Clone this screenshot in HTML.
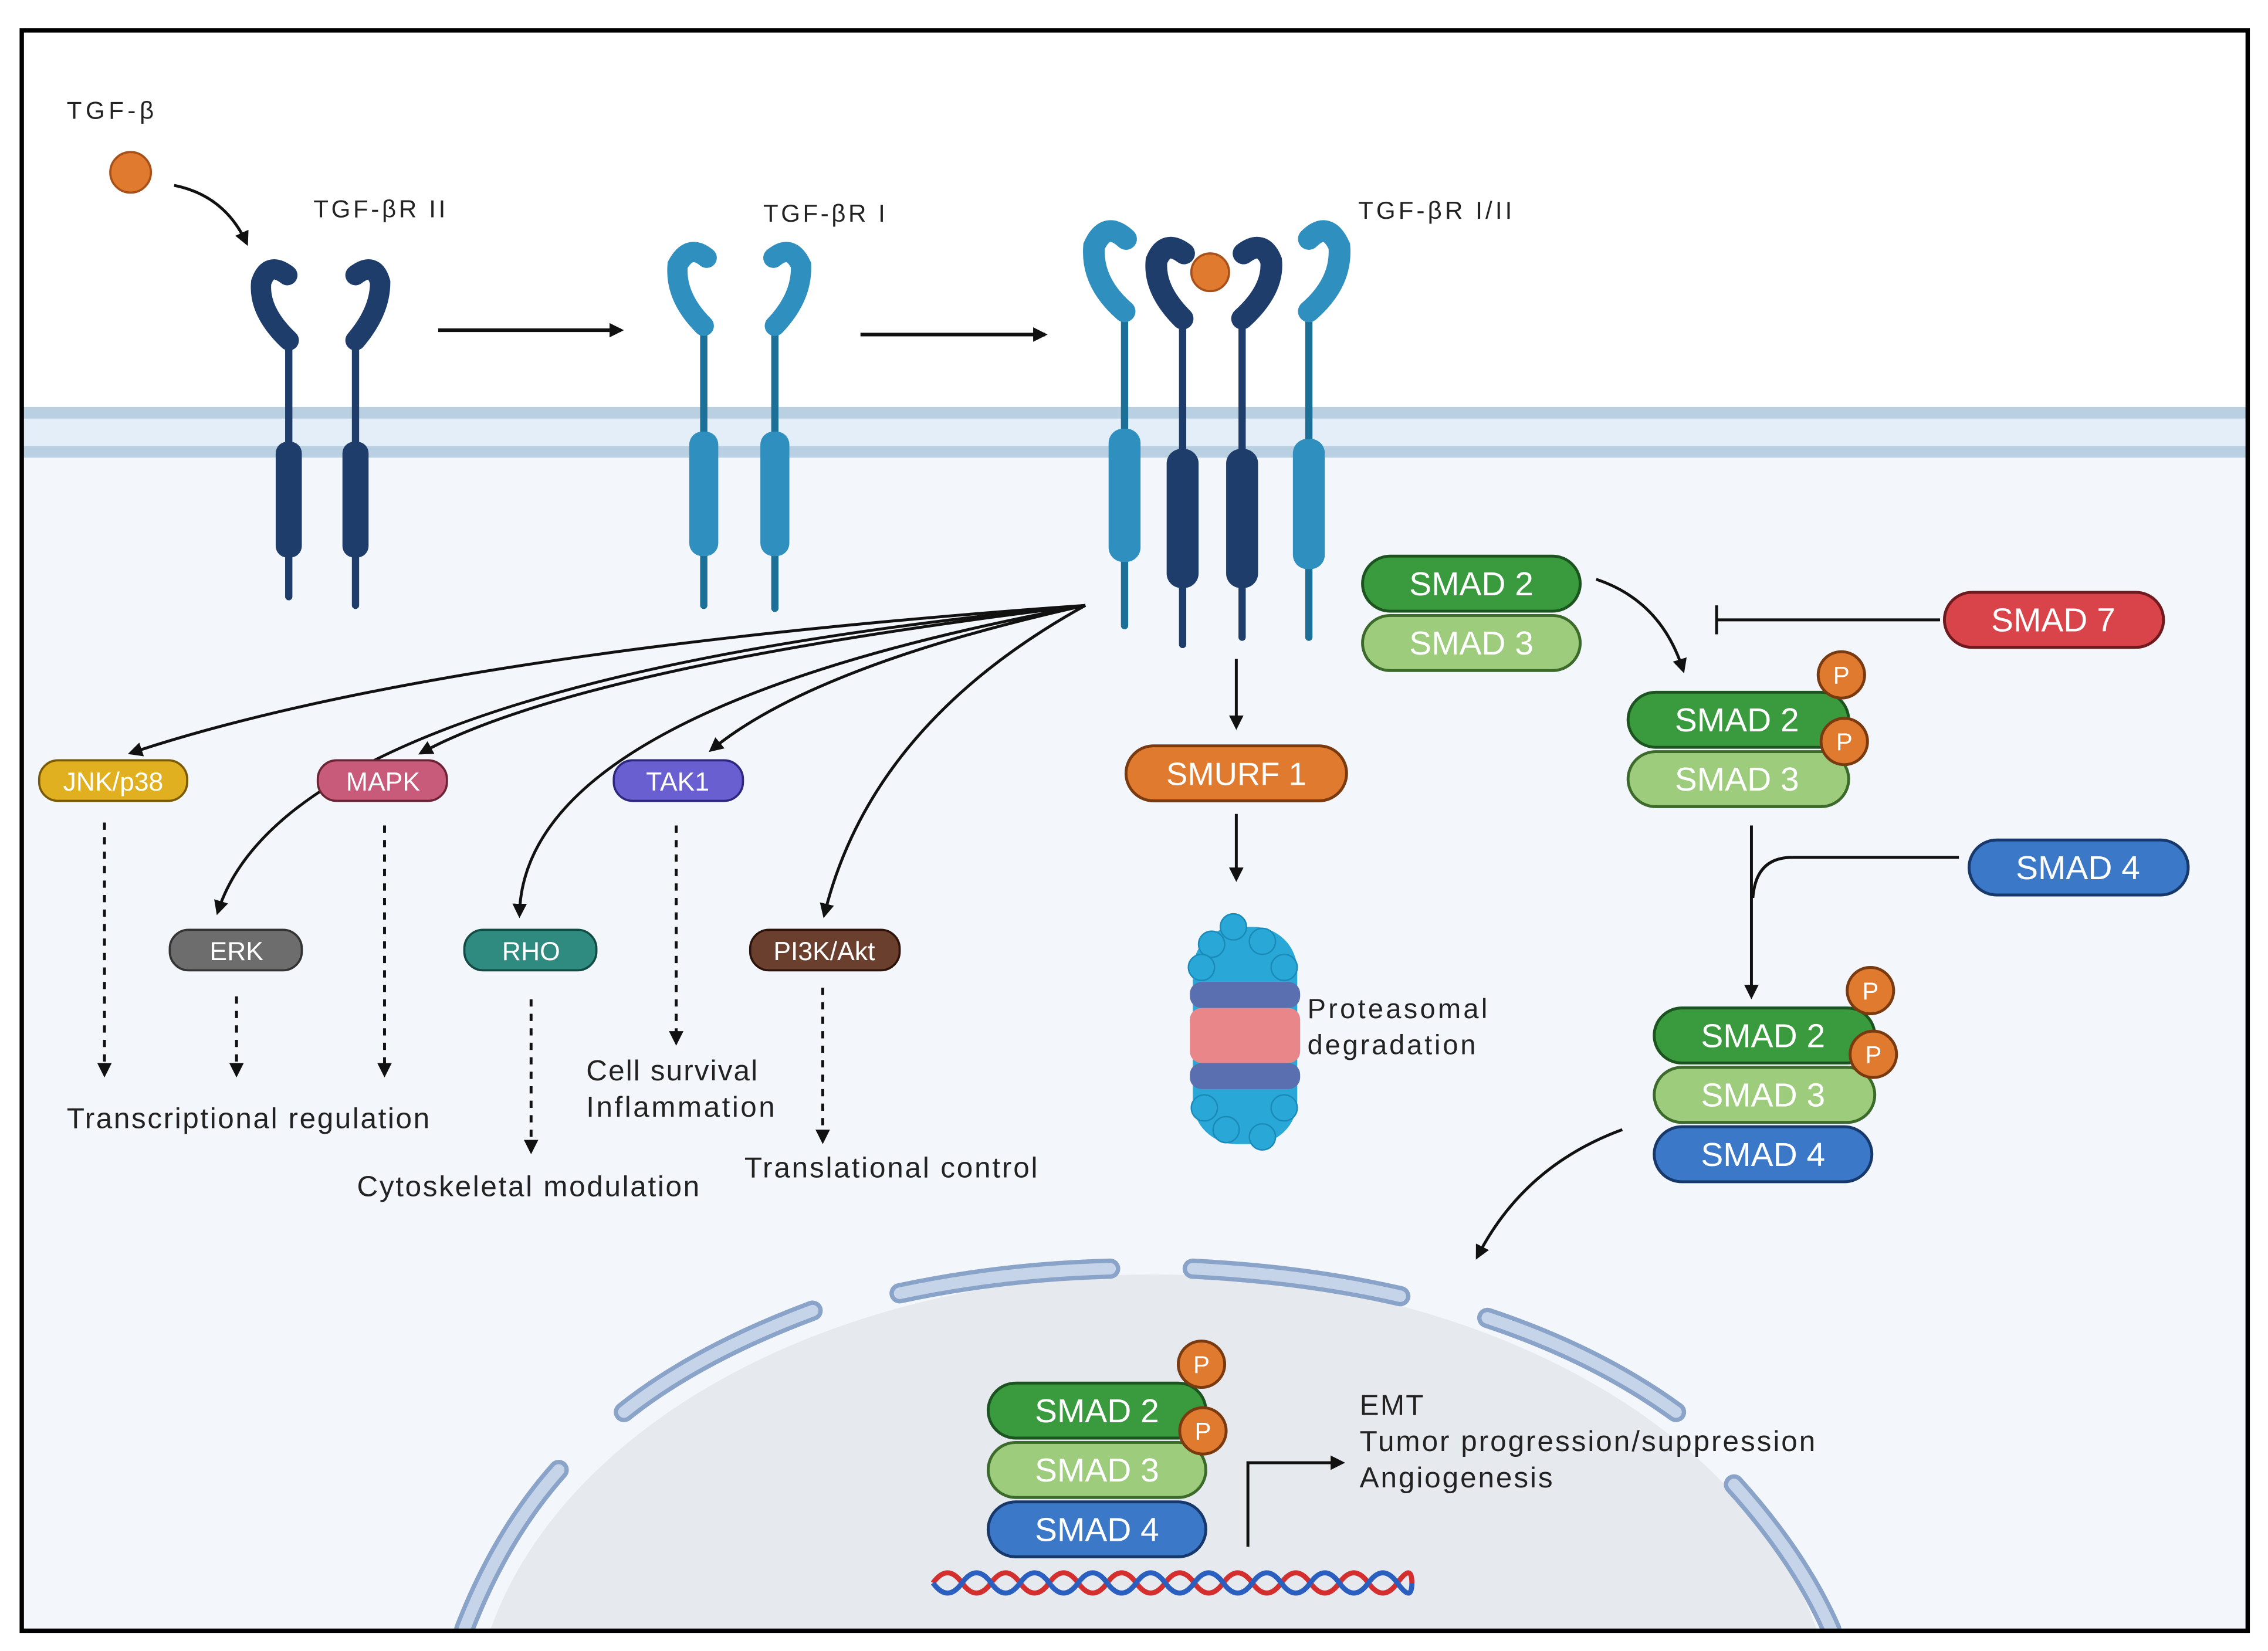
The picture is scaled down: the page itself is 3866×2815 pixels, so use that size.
<!DOCTYPE html>
<html><head><meta charset="utf-8"><style>
html,body{margin:0;padding:0;background:#fff;overflow:hidden;width:3866px;height:2815px}
svg{display:block}
text{font-family:"Liberation Sans",sans-serif}
</style></head><body>
<svg width="3866" height="2815" viewBox="0 0 1563 1140" preserveAspectRatio="none" xmlns="http://www.w3.org/2000/svg">
<defs>
<marker id="ah" markerWidth="10" markerHeight="10" refX="8" refY="5" orient="auto" markerUnits="userSpaceOnUse"><path d="M0,0 L10,5 L0,10 z" fill="#111"/></marker>
<clipPath id="cl"><rect x="16" y="22" width="1532" height="1103"/></clipPath>
</defs>
<rect x="0" y="0" width="1563" height="1140" fill="#fff"/>
<rect x="16" y="22" width="1532" height="1103" fill="#fff"/>
<rect x="16" y="300" width="1532" height="825" fill="#f3f6fa"/>
<g clip-path="url(#cl)">
<rect x="16" y="283" width="1532" height="32" fill="#e3eef8"/>
<rect x="16" y="281" width="1532" height="8" fill="#b9cfe2"/>
<rect x="16" y="308" width="1532" height="8" fill="#b9cfe2"/>
<ellipse cx="795" cy="1200" rx="470" ry="320" fill="#e6e9ed"/>
<g fill="none" stroke="#8aa3c8" stroke-width="14" stroke-linecap="round">
<path d="M320 1125 Q345 1060 385 1015"/>
<path d="M430 975 Q480 935 560 905"/>
<path d="M620 893 Q690 878 765 876"/>
<path d="M822 876 Q900 880 965 895"/>
<path d="M1025 910 Q1100 935 1155 975"/>
<path d="M1195 1025 Q1240 1075 1262 1125"/>
</g>
<g fill="none" stroke="#c5d4e8" stroke-width="8" stroke-linecap="round">
<path d="M320 1125 Q345 1060 385 1015"/>
<path d="M430 975 Q480 935 560 905"/>
<path d="M620 893 Q690 878 765 876"/>
<path d="M822 876 Q900 880 965 895"/>
<path d="M1025 910 Q1100 935 1155 975"/>
<path d="M1195 1025 Q1240 1075 1262 1125"/>
</g>
</g>
<rect x="15" y="21" width="1534" height="1105" fill="none" stroke="#000" stroke-width="3"/>

<text x="46" y="82" font-size="17" fill="#222" textLength="60">TGF-β</text>
<circle cx="90" cy="119" r="14" fill="#e07a2e" stroke="#a8501a" stroke-width="1.5"/>
<path d="M120 128 Q155 135 170 168" fill="none" stroke="#111" stroke-width="2" marker-end="url(#ah)"/>
<text x="216" y="150" font-size="17" fill="#222" textLength="91">TGF-βR II</text>
<text x="526" y="153" font-size="17" fill="#222" textLength="84">TGF-βR I</text>
<text x="936" y="151" font-size="17" fill="#222" textLength="106">TGF-βR I/II</text>
<line x1="302" y1="228" x2="428" y2="228" stroke="#111" stroke-width="2.5" marker-end="url(#ah)"/>
<line x1="593" y1="231" x2="720" y2="231" stroke="#111" stroke-width="2.5" marker-end="url(#ah)"/>

<g stroke-linecap="round" fill="none">
 <g stroke="#1f3d6b">
  <line x1="199" y1="230" x2="199" y2="412" stroke-width="5"/>
  <line x1="245" y1="230" x2="245" y2="418" stroke-width="5"/>
  <path d="M199 235 Q178 215 180 195 Q185 180 198 190" stroke-width="14"/>
  <path d="M245 235 Q262 215 262 195 Q258 180 245 190" stroke-width="14"/>
 </g>
 <rect x="190" y="305" width="18" height="80" rx="8" fill="#1f3d6b"/>
 <rect x="236" y="305" width="18" height="80" rx="8" fill="#1f3d6b"/>
 <g stroke="#1c6f96">
  <line x1="485" y1="220" x2="485" y2="418" stroke-width="5"/>
  <line x1="534" y1="220" x2="534" y2="420" stroke-width="5"/>
 </g>
 <g stroke="#2f8fbf">
  <path d="M485 225 Q465 205 467 183 Q475 168 487 178" stroke-width="14"/>
  <path d="M534 225 Q553 205 552 183 Q545 168 533 178" stroke-width="14"/>
 </g>
 <rect x="475" y="298" width="20" height="86" rx="9" fill="#2f8fbf"/>
 <rect x="524" y="298" width="20" height="86" rx="9" fill="#2f8fbf"/>
 <g stroke="#1c6f96">
  <line x1="775" y1="210" x2="775" y2="432" stroke-width="5"/>
  <line x1="902" y1="210" x2="902" y2="440" stroke-width="5"/>
 </g>
 <g stroke="#1f3d6b">
  <line x1="815" y1="215" x2="815" y2="445" stroke-width="5"/>
  <line x1="856" y1="215" x2="856" y2="440" stroke-width="5"/>
 </g>
 <g stroke="#2f8fbf">
  <path d="M775 215 Q752 195 754 170 Q762 152 776 165" stroke-width="15"/>
  <path d="M902 215 Q925 195 923 170 Q915 152 902 165" stroke-width="15"/>
 </g>
 <g stroke="#1f3d6b">
  <path d="M815 220 Q795 200 797 180 Q803 165 816 175" stroke-width="15"/>
  <path d="M856 220 Q878 200 876 180 Q870 165 857 175" stroke-width="15"/>
 </g>
 <rect x="764" y="296" width="22" height="92" rx="10" fill="#2f8fbf"/>
 <rect x="891" y="303" width="22" height="90" rx="10" fill="#2f8fbf"/>
 <rect x="804" y="310" width="22" height="96" rx="10" fill="#1f3d6b"/>
 <rect x="845" y="310" width="22" height="96" rx="10" fill="#1f3d6b"/>
</g>
<circle cx="834" cy="188" r="13" fill="#e07a2e" stroke="#a8501a" stroke-width="1.5"/>

<g fill="none" stroke="#111" stroke-width="2" marker-end="url(#ah)">
<path d="M748 418 Q300 450 90 520"/>
<path d="M748 418 Q200 470 150 630"/>
<path d="M748 418 Q400 460 290 520"/>
<path d="M748 418 Q360 490 358 632"/>
<path d="M748 418 Q560 460 490 518"/>
<path d="M748 418 Q600 500 568 632"/>
</g>
<g fill="none" stroke="#111" stroke-width="2" stroke-dasharray="5 5" marker-end="url(#ah)">
<line x1="72" y1="568" x2="72" y2="742"/>
<line x1="163" y1="688" x2="163" y2="742"/>
<line x1="265" y1="570" x2="265" y2="742"/>
<line x1="366" y1="690" x2="366" y2="795"/>
<line x1="466" y1="570" x2="466" y2="720"/>
<line x1="567" y1="682" x2="567" y2="788"/>
</g>
<g font-size="18" fill="#fff" text-anchor="middle">
<rect x="27" y="525" width="102" height="28" rx="13" fill="#e0b020" stroke="#7a5a00" stroke-width="1.5"/><text x="78" y="546">JNK/p38</text>
<rect x="219" y="525" width="89" height="28" rx="13" fill="#c85a7a" stroke="#6a2436" stroke-width="1.5"/><text x="264" y="546">MAPK</text>
<rect x="423" y="525" width="89" height="28" rx="13" fill="#6a5fd0" stroke="#2e2780" stroke-width="1.5"/><text x="467" y="546">TAK1</text>
<rect x="117" y="642" width="91" height="28" rx="13" fill="#6d6d6d" stroke="#333" stroke-width="1.5"/><text x="163" y="663">ERK</text>
<rect x="320" y="642" width="91" height="28" rx="13" fill="#2f8a80" stroke="#124a44" stroke-width="1.5"/><text x="366" y="663">RHO</text>
<rect x="517" y="642" width="103" height="28" rx="13" fill="#6b3f2e" stroke="#2d140b" stroke-width="1.5"/><text x="568" y="663">PI3K/Akt</text>
</g>
<g font-size="20" fill="#222">
<text x="46" y="779" textLength="250">Transcriptional regulation</text>
<text x="404" y="746" textLength="118">Cell survival</text>
<text x="404" y="771" textLength="130">Inflammation</text>
<text x="246" y="826" textLength="236">Cytoskeletal modulation</text>
<text x="513" y="813" textLength="202">Translational control</text>
</g>

<line x1="852" y1="455" x2="852" y2="502" stroke="#111" stroke-width="2" marker-end="url(#ah)"/>
<rect x="776" y="515" width="152" height="38" rx="19" fill="#e07a2e" stroke="#7a3a10" stroke-width="2"/>
<text x="852" y="542" font-size="22" fill="#fff" text-anchor="middle">SMURF 1</text>
<line x1="852" y1="562" x2="852" y2="607" stroke="#111" stroke-width="2" marker-end="url(#ah)"/>
<g>
<rect x="822" y="640" width="72" height="150" rx="30" fill="#29a8d8"/>
<rect x="820" y="678" width="76" height="18" rx="8" fill="#5a6fb0"/>
<rect x="820" y="696" width="76" height="38" rx="8" fill="#e8868a"/>
<rect x="820" y="734" width="76" height="18" rx="8" fill="#5a6fb0"/>
<g fill="#29a8d8" stroke="#1a8ab8" stroke-width="1">
<circle cx="850" cy="640" r="9"/><circle cx="835" cy="652" r="9"/><circle cx="870" cy="650" r="9"/><circle cx="885" cy="668" r="9"/><circle cx="828" cy="668" r="9"/>
<circle cx="830" cy="765" r="9"/><circle cx="885" cy="765" r="9"/><circle cx="845" cy="780" r="9"/><circle cx="870" cy="785" r="9"/>
</g>
</g>
<text x="901" y="703" font-size="19" fill="#222" textLength="124">Proteasomal</text>
<text x="901" y="728" font-size="19" fill="#222" textLength="116">degradation</text>

<g font-size="23" fill="#fff" text-anchor="middle">
<rect x="939" y="425" width="150" height="38" rx="19" fill="#9ccc7c" stroke="#3c6a2a" stroke-width="2"/><text x="1014" y="452">SMAD 3</text>
<rect x="939" y="384" width="150" height="38" rx="19" fill="#3a9a3e" stroke="#1c5420" stroke-width="2"/><text x="1014" y="411">SMAD 2</text>
<rect x="1340" y="409" width="151" height="38" rx="19" fill="#d9434a" stroke="#6e1a1e" stroke-width="2"/><text x="1415" y="436">SMAD 7</text>
<rect x="1122" y="519" width="152" height="38" rx="19" fill="#9ccc7c" stroke="#3c6a2a" stroke-width="2"/><text x="1197" y="546">SMAD 3</text>
<rect x="1122" y="478" width="152" height="38" rx="19" fill="#3a9a3e" stroke="#1c5420" stroke-width="2"/><text x="1197" y="505">SMAD 2</text>
<rect x="1357" y="580" width="151" height="38" rx="19" fill="#3b78c8" stroke="#17386a" stroke-width="2"/><text x="1432" y="607">SMAD 4</text>
<rect x="1140" y="778" width="150" height="38" rx="19" fill="#3b78c8" stroke="#17386a" stroke-width="2"/><text x="1215" y="805">SMAD 4</text>
<rect x="1140" y="737" width="152" height="38" rx="19" fill="#9ccc7c" stroke="#3c6a2a" stroke-width="2"/><text x="1215" y="764">SMAD 3</text>
<rect x="1140" y="696" width="152" height="38" rx="19" fill="#3a9a3e" stroke="#1c5420" stroke-width="2"/><text x="1215" y="723">SMAD 2</text>
<rect x="681" y="1037" width="150" height="38" rx="19" fill="#3b78c8" stroke="#17386a" stroke-width="2"/><text x="756" y="1064">SMAD 4</text>
<rect x="681" y="996" width="150" height="38" rx="19" fill="#9ccc7c" stroke="#3c6a2a" stroke-width="2"/><text x="756" y="1023">SMAD 3</text>
<rect x="681" y="955" width="150" height="38" rx="19" fill="#3a9a3e" stroke="#1c5420" stroke-width="2"/><text x="756" y="982">SMAD 2</text>
</g>
<g font-size="17" fill="#fff" text-anchor="middle">
<circle cx="1269" cy="466" r="16" fill="#e07a2e" stroke="#7a3a10" stroke-width="2"/><text x="1269" y="472">P</text>
<circle cx="1271" cy="512" r="16" fill="#e07a2e" stroke="#7a3a10" stroke-width="2"/><text x="1271" y="518">P</text>
<circle cx="1289" cy="684" r="16" fill="#e07a2e" stroke="#7a3a10" stroke-width="2"/><text x="1289" y="690">P</text>
<circle cx="1291" cy="728" r="16" fill="#e07a2e" stroke="#7a3a10" stroke-width="2"/><text x="1291" y="734">P</text>
<circle cx="828" cy="942" r="16" fill="#e07a2e" stroke="#7a3a10" stroke-width="2"/><text x="828" y="948">P</text>
<circle cx="829" cy="988" r="16" fill="#e07a2e" stroke="#7a3a10" stroke-width="2"/><text x="829" y="994">P</text>
</g>
<g fill="none" stroke="#111" stroke-width="2">
<path d="M1100 400 Q1145 415 1160 463" marker-end="url(#ah)"/>
<line x1="1337" y1="428" x2="1183" y2="428"/>
<line x1="1183" y1="418" x2="1183" y2="438"/>
<line x1="1207" y1="570" x2="1207" y2="688" marker-end="url(#ah)"/>
<path d="M1350 592 L1235 592 Q1210 592 1208 620"/>
<path d="M1118 780 Q1050 805 1018 868" marker-end="url(#ah)"/>
<path d="M860 1068 L860 1010 L925 1010" marker-end="url(#ah)"/>
</g>
<g font-size="20" fill="#222">
<text x="937" y="977" textLength="44">EMT</text>
<text x="937" y="1002" textLength="314">Tumor progression/suppression</text>
<text x="937" y="1027" textLength="133">Angiogenesis</text>
</g>
<g fill="none" stroke-width="3.5">
<path d="M643 1093 q10 -14 20 0 t20 0 t20 0 t20 0 t20 0 t20 0 t20 0 t20 0 t20 0 t20 0 t20 0 t20 0 t20 0 t20 0 t20 0 t20 0 t10 0" stroke="#d32f2f"/>
<path d="M643 1093 q10 14 20 0 t20 0 t20 0 t20 0 t20 0 t20 0 t20 0 t20 0 t20 0 t20 0 t20 0 t20 0 t20 0 t20 0 t20 0 t20 0 t10 0" stroke="#2a5fc0"/>
</g>
</svg>
</body></html>
